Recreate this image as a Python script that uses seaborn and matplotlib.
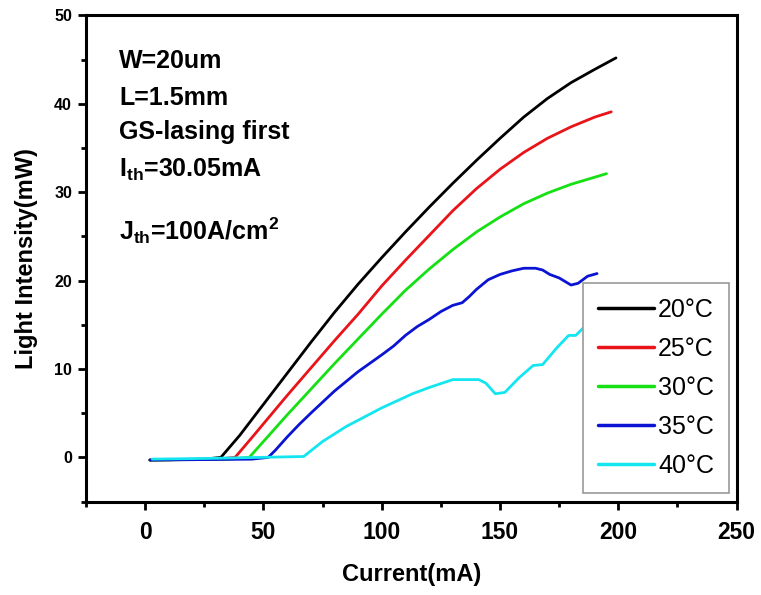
import numpy as np
import pandas as pd
import matplotlib
matplotlib.use("Agg")
import matplotlib.pyplot as plt
import seaborn as sns

# ---- data ----
temps = ["20°C", "25°C", "30°C", "35°C", "40°C"]
colors = ["#000000", "#e8141a", "#14e014", "#0a14d2", "#14e6f0"]

x20 = [2, 25, 32, 40, 50, 60, 70, 80, 90, 100, 110, 120, 130, 140, 150, 160, 170, 180, 190, 199]
y20 = [-0.3, -0.2, 0, 2.5, 6, 9.5, 13, 16.4, 19.6, 22.6, 25.5, 28.3, 31, 33.6, 36.1, 38.5, 40.6, 42.4, 43.9, 45.2]

x25 = [2, 30, 38, 45, 50, 60, 70, 80, 90, 100, 110, 120, 130, 140, 150, 160, 170, 180, 190, 197]
y25 = [-0.3, -0.2, 0, 2.2, 3.8, 7, 10.1, 13.2, 16.2, 19.4, 22.3, 25.1, 27.9, 30.4, 32.6, 34.5, 36.1, 37.4, 38.5, 39.1]

x30 = [2, 35, 44, 50, 60, 70, 80, 90, 100, 110, 120, 130, 140, 150, 160, 170, 180, 190, 195]
y30 = [-0.3, -0.2, 0, 1.8, 4.8, 7.7, 10.6, 13.4, 16.2, 18.9, 21.3, 23.5, 25.5, 27.2, 28.7, 29.9, 30.9, 31.7, 32.1]

x35 = [2, 45, 52, 55, 60, 65, 70, 80, 90, 100, 105, 110, 115, 120, 125, 130, 134, 137, 140, 145,
       150, 155, 160, 165, 168, 171, 175, 180, 183, 187, 191]
y35 = [-0.3, -0.2, 0, 0.8, 2.3, 3.7, 5.0, 7.5, 9.7, 11.6, 12.6, 13.8, 14.8, 15.6, 16.5, 17.2, 17.5, 18.2, 19.0, 20.1,
       20.7, 21.1, 21.4, 21.4, 21.2, 20.7, 20.3, 19.5, 19.7, 20.5, 20.8]

x40 = [3, 30, 67, 75, 85, 100, 113, 120, 130, 141, 144, 148, 152, 158, 164, 168, 174, 179, 182, 185, 190]
y40 = [-0.2, -0.1, 0.1, 1.8, 3.5, 5.6, 7.2, 7.9, 8.8, 8.8, 8.4, 7.2, 7.35, 9.0, 10.4, 10.5, 12.4, 13.8, 13.8, 14.6, 15.2]

xs = [x20, x25, x30, x35, x40]
ys = [y20, y25, y30, y35, y40]

frames = []
for t, xv, yv in zip(temps, xs, ys):
    frames.append(pd.DataFrame({"Current": xv, "Light": yv, "T": t}))
df = pd.concat(frames, ignore_index=True)

sns.set_theme(style="white")
plt.rcParams["font.family"] = ["Liberation Sans", "DejaVu Sans"]
plt.rcParams["mathtext.fontset"] = "custom"
plt.rcParams["mathtext.rm"] = "Liberation Sans:bold"
plt.rcParams["mathtext.bf"] = "Liberation Sans:bold"
plt.rcParams["mathtext.it"] = "Liberation Sans:bold"
for k in ["text.color", "axes.labelcolor", "xtick.color", "ytick.color", "axes.edgecolor"]:
    plt.rcParams[k] = "black"

fig = plt.figure(figsize=(7.61, 5.95), dpi=100)
ax = fig.add_axes([0.113, 0.157, 0.855, 0.817])

sns.lineplot(data=df, x="Current", y="Light", hue="T", palette=dict(zip(temps, colors)),
             hue_order=temps, sort=False, estimator=None, linewidth=2.0, ax=ax)

ax.set_xlim(-25, 250)
ax.set_ylim(-5, 50)
ax.set_xticks([0, 50, 100, 150, 200, 250])
ax.set_xticks([-25, 25, 75, 125, 175, 225], minor=True)
ax.set_yticks([0, 10, 20, 30, 40, 50])
ax.set_yticks([-5, 5, 15, 25, 35, 45], minor=True)
ax.tick_params(axis="both", which="major", direction="out", length=6, width=2,
               bottom=True, left=True, top=False, right=False)
ax.tick_params(axis="both", which="minor", direction="out", length=3.5, width=2,
               bottom=True, left=True, top=False, right=False)
for lab in ax.get_xticklabels():
    lab.set_fontsize(16.5)
    lab.set_fontweight("bold")
for lab in ax.get_yticklabels():
    lab.set_fontsize(11.5)
    lab.set_fontweight("bold")
ax.tick_params(axis="x", pad=8)
ax.tick_params(axis="y", pad=4)
for s in ax.spines.values():
    s.set_linewidth(2.2)
    s.set_color("black")

ax.set_xlabel("Current(mA)", fontsize=17, fontweight="bold", labelpad=14)
ax.set_ylabel("Light Intensity(mW)", fontsize=17, fontweight="bold", labelpad=12)

tx = 0.051
kw = dict(transform=ax.transAxes, fontsize=18, fontweight="bold", ha="left", va="baseline")
ax.text(tx, 0.892, "W=20um", **kw)
ax.text(tx, 0.8165, "L=1.5mm", **kw)
ax.text(tx, 0.745, "GS-lasing first", **kw)
ax.text(tx, 0.668, r"$\mathregular{I_{th}}$=30.05mA", **kw)
ax.text(tx, 0.538, r"$\mathregular{J_{th}}$=100A/cm$\mathregular{^2}$", **kw)

leg = ax.legend(title=None, loc="lower right", bbox_to_anchor=(0.9885, 0.018), borderaxespad=0,
                fontsize=18, frameon=True, fancybox=False, edgecolor="#999999", framealpha=1,
                handlelength=2.25, labelspacing=0.6, borderpad=0.6, handletextpad=0.15)
leg.get_frame().set_linewidth(1.2)
for line in leg.get_lines():
    line.set_linewidth(2.5)

fig.savefig("out.png", dpi=100)
